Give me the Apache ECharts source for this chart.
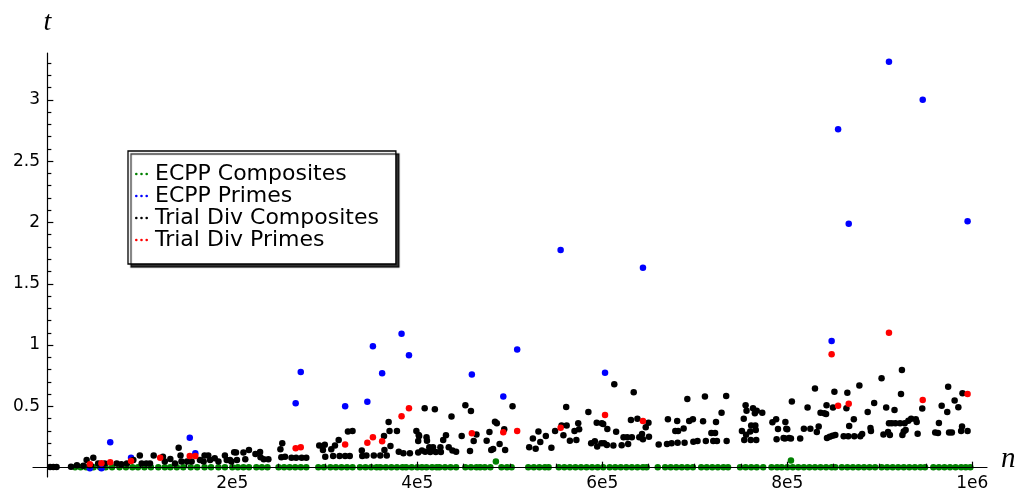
<!DOCTYPE html>
<html>
<head>
<meta charset="utf-8">
<script src="https://cdn.jsdelivr.net/npm/echarts@6.0.0/dist/echarts.min.js"></script>
<style>
  html, body { margin: 0; padding: 0; background: #fff; }
  #chart { width: 1020px; height: 493px; }
</style>
</head>
<body>
<div id="chart"></div>
<script>
// [n, t] pairs
const ecppComposites = [
  [30000,0.003],[36000,0.003],[42000,0.003],[50000,0.003],[57000,0.003],[63000,0.003],[70000,0.003],[78000,0.003],
  [85000,0.003],[92000,0.003],[98000,0.003],[105000,0.003],[112000,0.003],[120000,0.003],[127000,0.003],[133000,0.003],
  [140000,0.003],[147000,0.003],[155000,0.003],[162000,0.003],[170000,0.003],[177000,0.003],[185000,0.003],[192000,0.003],
  [200000,0.003],[206000,0.003],[212000,0.003],[218000,0.003],[226000,0.003],[232000,0.003],[238000,0.003],
  [250000,0.003],[256000,0.003],[262000,0.003],[268000,0.003],[274000,0.003],[280000,0.003],
  [293000,0.003],[299000,0.003],[306000,0.003],[312000,0.003],[318000,0.003],[324000,0.003],[330000,0.003],
  [338000,0.003],[344000,0.003],[350000,0.003],[356000,0.003],[360000,0.003],[366000,0.003],[372000,0.003],[378000,0.003],[384000,0.003],
  [388000,0.003],[394000,0.003],[400000,0.003],[405000,0.003],[410000,0.003],[416000,0.003],[421000,0.003],
  [424000,0.003],[430000,0.003],[436000,0.003],[442000,0.003],[452000,0.003],[458000,0.003],[464000,0.003],[468000,0.003],
  [473000,0.003],[479000,0.003],[485000,0.05],[491000,0.003],[497000,0.003],[502000,0.003],
  [520000,0.003],[526000,0.003],[532000,0.003],[538000,0.003],[542000,0.003],
  [553000,0.003],[559000,0.003],[565000,0.003],[571000,0.003],[577000,0.003],[583000,0.003],[589000,0.003],[595000,0.003],[601000,0.003],
  [608000,0.003],[614000,0.003],[620000,0.003],[626000,0.003],[632000,0.003],[638000,0.003],[644000,0.003],[648000,0.003],
  [660000,0.003],[668000,0.003],[674000,0.003],[680000,0.003],[686000,0.003],[692000,0.003],[698000,0.003],
  [707000,0.003],[713000,0.003],[719000,0.003],[725000,0.003],[731000,0.003],[736000,0.003],
  [749000,0.003],[755000,0.003],[761000,0.003],[767000,0.003],[774000,0.003],[783000,0.003],[789000,0.003],[794000,0.003],
  [800000,0.003],[804000,0.058],[806000,0.003],[812000,0.003],[818000,0.003],[824000,0.003],[830000,0.003],[836000,0.003],[842000,0.003],[848000,0.003],[852000,0.003],
  [859000,0.003],[865000,0.003],[871000,0.003],[877000,0.003],[883000,0.003],[889000,0.003],[895000,0.003],
  [902000,0.003],[908000,0.003],[914000,0.003],[920000,0.003],[926000,0.003],[932000,0.003],
  [938000,0.003],[944000,0.003],[949000,0.003],
  [958000,0.003],[964000,0.003],[970000,0.003],[976000,0.003],[982000,0.003],[988000,0.003],[993000,0.003],[998000,0.003]
];
const ecppPrimes = [
  [46000,-0.005],[58500,-0.005],[68000,0.207],[90500,0.08],[154000,0.245],[160000,0.117],
  [268500,0.525],[274000,0.78],[322000,0.5],[346000,0.537],[352000,0.99],[362000,0.77],
  [383000,1.093],[391000,0.917],[459000,0.76],[493000,0.58],[508000,0.963],[555000,1.776],
  [603000,0.775],[644000,1.63],[848000,1.033],[855000,2.76],[866500,1.99],[910000,3.31],
  [946500,3.0],[995000,2.01]
];
const trialComposites = [
  [3000,0.005],[6500,0.005],[10000,0.006],
  [25600,0.008],[32000,0.02],[39000,0.016],[42500,0.063],[49700,0.082],[46000,0.02],[55000,0.035],[62000,0.035],
  [75000,0.035],[80000,0.027],[86000,0.035],[93000,0.063],[100000,0.1],[102000,0.035],[107000,0.035],[115000,0.1],
  [111000,0.035],[125000,0.09],[127000,0.05],[133000,0.07],[138000,0.035],[142000,0.163],[144000,0.1],[145000,0.05],
  [151000,0.05],[156000,0.05],[165000,0.063],[169000,0.05],[170000,0.1],[174000,0.1],[176000,0.063],[181000,0.077],
  [185000,0.05],[192000,0.1],[194000,0.063],[199000,0.05],[202000,0.125],
  [197500,0.063],[204000,0.123],[205000,0.063],[212000,0.123],[214000,0.068],[218000,0.145],[225000,0.112],[230000,0.128],
  [230500,0.085],[234000,0.068],[239000,0.068],[252000,0.15],[254000,0.199],[253000,0.085],[257000,0.09],[264000,0.082],
  [269000,0.082],[275000,0.082],[280000,0.082],[294000,0.18],[300000,0.187],[298000,0.145],[300500,0.09],[307000,0.15],
  [311000,0.18],[315000,0.226],[309000,0.095],[316000,0.095],[322000,0.095],[327000,0.095],[325000,0.296],[330000,0.3],
  [340000,0.14],[340500,0.095],[345000,0.1],[353000,0.1],[360000,0.1],[364000,0.258],[364500,0.145],[369000,0.372],
  [370000,0.3],[371000,0.177],[367000,0.1],[378000,0.3],[380000,0.13],[385000,0.117],[392000,0.117],[399000,0.3],
  [401000,0.217],[401500,0.266],
  [402000,0.258],[401000,0.123],[405000,0.14],[408000,0.484],[410000,0.248],[410500,0.22],[408500,0.13],[413000,0.166],
  [414000,0.128],[417000,0.166],[419000,0.476],[420000,0.128],[425000,0.166],[425500,0.128],[428000,0.226],[431000,0.264],
  [434000,0.166],[437000,0.417],[438000,0.14],[442000,0.13],[448000,0.258],[452000,0.51],[458000,0.463],[457000,0.136],
  [461000,0.217],[464000,0.27],[475000,0.22],[478000,0.29],[480000,0.145],[482000,0.152],[484000,0.375],[486000,0.362],
  [489000,0.193],[494000,0.313],[495000,0.145],[503000,0.5],[521000,0.166],[525000,0.237],[528000,0.155],[531000,0.296],
  [533000,0.21],[539000,0.258],[545000,0.163],[549000,0.3],[556000,0.345],[558000,0.264],[561000,0.495],[561500,0.345],
  [565000,0.22],[570000,0.3],[572000,0.226],[574000,0.362],[575000,0.313],[585000,0.455],[588000,0.199],[592000,0.215],
  [594000,0.367],[594500,0.172],[599000,0.199],[601000,0.356],
  [599500,0.362],[602000,0.199],[605000,0.185],[605500,0.316],[612000,0.18],[613000,0.68],[615000,0.294],[621000,0.182],
  [623000,0.248],[627000,0.248],[628000,0.193],[631000,0.389],[632000,0.248],[634000,0.615],[638000,0.4],[640000,0.248],
  [643000,0.275],[644000,0.231],[647000,0.33],[650000,0.367],[650500,0.253],[661000,0.19],[670000,0.193],[671000,0.394],
  [675000,0.199],[679000,0.3],[681000,0.38],[681500,0.204],[682000,0.3],[688000,0.32],[689000,0.204],[692000,0.56],
  [694000,0.38],[698000,0.394],[698500,0.212],[703000,0.217],[709000,0.378],[711000,0.58],[712000,0.217],[718000,0.283],
  [720000,0.217],[722000,0.283],[723000,0.372],[724000,0.217],[729000,0.449],[734000,0.585],[734500,0.217],[751000,0.3],
  [753000,0.4],[753500,0.226],[755000,0.51],[756000,0.465],[755500,0.269],[760000,0.296],[760500,0.226],[761000,0.345],
  [763000,0.484],[765000,0.444],[765500,0.345],[766000,0.308],[766500,0.226],[767000,0.465],[773000,0.449],[784000,0.37],
  [788000,0.394],[788500,0.231],[790000,0.316],[796000,0.242],[798000,0.372],[799000,0.318],[802000,0.242],
  [800000,0.313],[797500,0.237],[804000,0.237],[805000,0.54],[814000,0.237],[818000,0.318],[822000,0.49],[825000,0.318],
  [830000,0.645],[832000,0.29],[834000,0.335],[836000,0.449],[840000,0.444],[842000,0.438],[842500,0.509],[843000,0.242],
  [846000,0.253],[849000,0.26],[849500,0.49],[851000,0.62],[852000,0.266],[861000,0.256],[864000,0.484],[865000,0.612],
  [866000,0.256],[867000,0.34],[872000,0.394],[872500,0.256],[878000,0.67],[879000,0.256],[881000,0.275],[887000,0.455],
  [890000,0.324],[890500,0.3],[894000,0.528],[902000,0.73],[904000,0.27],[907000,0.49],[909000,0.29],[910000,0.362],
  [911000,0.266],[913000,0.362],[916000,0.471],[917000,0.362],[922000,0.362],[923000,0.6],[924000,0.797],[924500,0.266],
  [926000,0.296],[927000,0.362],[928000,0.308],[931000,0.383],[934000,0.4],[939000,0.394],[940000,0.372],[941000,0.277],
  [946000,0.482],[960000,0.286],[963000,0.283],[964000,0.364],[967000,0.506],[973000,0.455],[974000,0.66],[975000,0.286],
  [978000,0.286],[981000,0.547],[985000,0.493],[988000,0.3],[989000,0.335],[989500,0.607],[995000,0.3]
];
const trialPrimes = [
  [46000,0.028],[58500,0.036],[68000,0.044],[90500,0.055],[122000,0.082],[154000,0.095],[160000,0.095],
  [268500,0.158],[274000,0.166],[322000,0.19],[346000,0.204],[352000,0.248],[362000,0.215],[383000,0.42],
  [391000,0.484],[459000,0.28],[493000,0.288],[508000,0.3],[555000,0.326],[603000,0.43],[644000,0.38],
  [848000,0.925],[855000,0.506],[866500,0.522],[910000,1.1],[946500,0.552],[995000,0.6]
];

const xMajorTicks = [200000, 400000, 600000, 800000, 1000000];
const xTickLabels = ['2e5', '4e5', '6e5', '8e5', '1e6'];
const xMinorTicks = [50000, 100000, 150000, 250000, 300000, 350000, 450000, 500000, 550000,
  650000, 700000, 750000, 850000, 900000, 950000];
const yMajorTicks = [0.5, 1, 1.5, 2, 2.5, 3];
const yTickLabels = ['0.5', '1', '1.5', '2', '2.5', '3'];
const yMinorTicks = [0.1, 0.2, 0.3, 0.4, 0.6, 0.7, 0.8, 0.9, 1.1, 1.2, 1.3, 1.4, 1.6, 1.7, 1.8, 1.9,
  2.1, 2.2, 2.3, 2.4, 2.6, 2.7, 2.8, 2.9, 3.1, 3.2, 3.3];

const chart = echarts.init(document.getElementById('chart'));

const font = 'DejaVu Sans';
const lineStyle = { color: '#000', width: 1.2 };
const dots = 'path://M0,1.3a1.3,1.3 0 1,0 2.6,0a1.3,1.3 0 1,0 -2.6,0M5.2,1.3a1.3,1.3 0 1,0 2.6,0a1.3,1.3 0 1,0 -2.6,0M10.4,1.3a1.3,1.3 0 1,0 2.6,0a1.3,1.3 0 1,0 -2.6,0';

const xRange = { min: -15500, max: 1016000 };
const yRange = { min: -0.076, max: 3.382 };

const dotSeries = (name, data, color) => ({
  name,
  type: 'scatter',
  data,
  symbolSize: 6.5,
  itemStyle: { color, opacity: 1 },
  emphasis: { disabled: true }
});

const option = {
  animation: false,
  backgroundColor: '#fff',
  grid: { left: 33, right: 33, top: 53, bottom: 16, outerBoundsMode: 'none', containLabel: false },
  legend: {
    orient: 'vertical',
    left: 128,
    top: 151,
    padding: [12, 17, 13, 7],
    itemGap: 0,
    itemWidth: 13,
    itemHeight: 3,
    backgroundColor: '#fff',
    borderColor: '#000',
    borderWidth: 1.3,
    borderRadius: 0,
    shadowColor: 'rgba(0,0,0,0.8)',
    shadowBlur: 1,
    shadowOffsetX: 3,
    shadowOffsetY: 3,
    selectedMode: false,
    textStyle: { fontFamily: font, fontSize: 22, lineHeight: 22, color: '#000', padding: [0, 0, 0, 2] },
    data: [
      { name: 'ECPP Composites', icon: dots },
      { name: 'ECPP Primes', icon: dots },
      { name: 'Trial Div Composites', icon: dots },
      { name: 'Trial Div Primes', icon: dots }
    ]
  },
  xAxis: [
    {
      type: 'value', ...xRange, position: 'bottom', z: 5,
      axisLine: { onZero: true, onZeroAxisIndex: 0, lineStyle },
      axisTick: { inside: true, length: 6, customValues: xMajorTicks, lineStyle },
      axisLabel: {
        customValues: xMajorTicks,
        formatter: v => xTickLabels[xMajorTicks.indexOf(v)],
        margin: -2, fontFamily: font, fontSize: 17, color: '#000'
      },
      splitLine: { show: false },
      name: 'n', nameLocation: 'end', nameGap: 14,
      nameTextStyle: {
        fontFamily: 'Liberation Serif', fontStyle: 'italic', fontSize: 29, color: '#000',
        verticalAlign: 'bottom', padding: [0, 0, -6, 0]
      }
    },
    {
      type: 'value', ...xRange, position: 'bottom', z: 5,
      axisLine: { show: false, onZero: true, onZeroAxisIndex: 0 },
      axisTick: { inside: true, length: 4, customValues: xMinorTicks, lineStyle },
      axisLabel: { show: false },
      splitLine: { show: false }
    }
  ],
  yAxis: [
    {
      type: 'value', ...yRange, position: 'left', z: 5,
      axisLine: { onZero: true, onZeroAxisIndex: 0, lineStyle },
      axisTick: { inside: true, length: 6, customValues: yMajorTicks, lineStyle },
      axisLabel: {
        customValues: yMajorTicks,
        formatter: v => yTickLabels[yMajorTicks.indexOf(v)],
        margin: -7, fontFamily: font, fontSize: 17, color: '#000'
      },
      splitLine: { show: false },
      name: 't', nameLocation: 'end', nameGap: 16,
      nameTextStyle: { fontFamily: 'Liberation Serif', fontStyle: 'italic', fontSize: 28, color: '#000' }
    },
    {
      type: 'value', ...yRange, position: 'left', z: 5,
      axisLine: { show: false, onZero: true, onZeroAxisIndex: 0 },
      axisTick: { inside: true, length: 4, customValues: yMinorTicks, lineStyle },
      axisLabel: { show: false },
      splitLine: { show: false }
    }
  ],
  series: [
    dotSeries('ECPP Composites', ecppComposites, '#008000'),
    dotSeries('ECPP Primes', ecppPrimes, '#0000ff'),
    dotSeries('Trial Div Composites', trialComposites, '#000000'),
    dotSeries('Trial Div Primes', trialPrimes, '#ff0000')
  ]
};

chart.setOption(option);
</script>
</body>
</html>
